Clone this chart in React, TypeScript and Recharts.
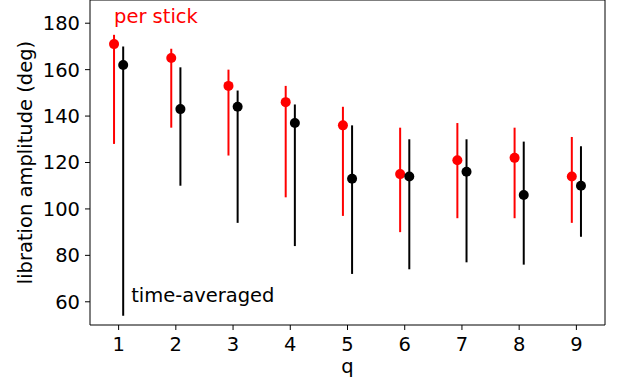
import { ComposedChart, Scatter, ErrorBar, XAxis, YAxis, ReferenceArea, ReferenceDot } from 'recharts';

const Q = [1, 2, 3, 4, 5, 6, 7, 8, 9];
const STICK_MEAN = [171, 165, 153, 146, 136, 115, 121, 122, 114];
const STICK_LO = [128, 135, 123, 105, 97, 90, 96, 96, 94];
const STICK_HI = [175, 169, 160, 153, 144, 135, 137, 135, 131];
const AVG_MEAN = [162, 143, 144, 137, 113, 114, 116, 106, 110];
const AVG_LO = [54, 110, 94, 84, 72, 74, 77, 76, 88];
const AVG_HI = [170, 161, 151, 145, 136, 130, 130, 129, 127];
const Y_TICKS = [60, 80, 100, 120, 140, 160, 180];

const FONT = 'DejaVu Sans, sans-serif';
const FS = 19.5;
const OFF = 0.08;

const build = (mean: number[], lo: number[], hi: number[], off: number) =>
  Q.map((q, i) => ({ x: q + off, y: mean[i], err: [mean[i] - lo[i], hi[i] - mean[i]] }));

const stick = build(STICK_MEAN, STICK_LO, STICK_HI, -OFF);
const avg = build(AVG_MEAN, AVG_LO, AVG_HI, OFF);

const dot = (color: string) => (p: any) => <circle cx={p.cx} cy={p.cy} r={5} fill={color} />;

export default function App() {
  const tick = { fill: '#000', fontSize: FS, fontFamily: FONT };
  return (
    <div style={{ position: 'absolute', left: 0, top: 0, width: 623, height: 385, background: '#fff' }}>
      <ComposedChart width={623} height={385} margin={{ top: 0, right: 18, bottom: 0, left: 0 }}>
        <XAxis type="number" dataKey="x" domain={[0.5, 9.5]} ticks={Q} allowDataOverflow
          tick={tick} tickSize={5} tickMargin={7} height={60} axisLine={false} stroke="#000"
          label={(p: any) => <text x={p.viewBox.x + p.viewBox.width / 2} y={372.5} textAnchor="middle" fill="#000" fontSize={FS} fontFamily={FONT}>q</text>} />
        <YAxis type="number" dataKey="y" domain={[50, 190]} ticks={Y_TICKS} allowDataOverflow
          tick={tick} tickSize={5} tickMargin={5} width={90} axisLine={false} stroke="#000"
          label={(p: any) => {
            const cy = p.viewBox.y + p.viewBox.height / 2;
            return <text x={32} y={cy} transform={`rotate(-90, 32, ${cy})`} textAnchor="middle" fill="#000" fontSize={FS} fontFamily={FONT}>libration amplitude (deg)</text>;
          }} />
        <ReferenceArea x1={0.5} x2={9.5} y1={50} y2={190} fill="none" stroke="#000" strokeWidth={1} />
        <Scatter data={stick} fill="red" shape={dot('red')} isAnimationActive={false}>
          <ErrorBar dataKey="err" direction="y" width={0} stroke="red" strokeWidth={2} />
        </Scatter>
        <Scatter data={avg} fill="#000" shape={dot('#000')} isAnimationActive={false}>
          <ErrorBar dataKey="err" direction="y" width={0} stroke="#000" strokeWidth={2} />
        </Scatter>
        <ReferenceDot x={0.92} y={180} r={0} fill="none" stroke="none"
          label={(p: any) => <text x={p.viewBox.x} y={p.viewBox.y} fill="red" fontSize={FS} fontFamily={FONT}>per stick</text>} />
        <ReferenceDot x={1.22} y={60} r={0} fill="none" stroke="none"
          label={(p: any) => <text x={p.viewBox.x} y={p.viewBox.y} fill="#000" fontSize={FS} fontFamily={FONT}>time-averaged</text>} />
      </ComposedChart>
    </div>
  );
}
